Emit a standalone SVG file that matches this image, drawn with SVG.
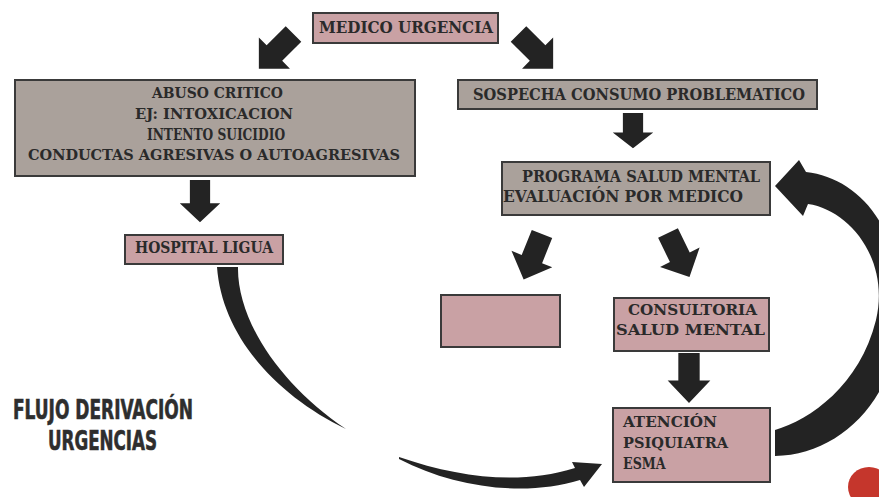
<svg xmlns="http://www.w3.org/2000/svg" xmlns:xlink="http://www.w3.org/1999/xlink" width="879" height="497" viewBox="0 0 879 497">
  <style>
    .pink { fill: #c9a1a4; stroke: #3a3a3a; stroke-width: 2; }
    .gray { fill: #aaa19b; stroke: #3a3a3a; stroke-width: 2; }
    .t { font-family: "DejaVu Serif Condensed", "DejaVu Serif", "Liberation Serif", serif; font-weight: bold; fill: #2a2a2a; }
    .title { font-family: "DejaVu Sans Condensed", "Liberation Sans Narrow", "DejaVu Sans", sans-serif; font-weight: bold; fill: #2e2e2e; stroke: #2e2e2e; stroke-width: 0.6; }
    .blk { fill: #232323; }
  </style>
  <defs>
    <path id="blkArrow" d="M-11,0 H11 V27 H22 L0,49 L-22,27 H-11 Z"/>
  </defs>
  <rect width="879" height="497" fill="#ffffff"/>

  <g id="connectors" class="blk">
    <use xlink:href="#blkArrow" href="#blkArrow" transform="translate(293.5,34) rotate(45)"/>
    <use xlink:href="#blkArrow" href="#blkArrow" transform="translate(518.5,34) rotate(-45)"/>
    <use xlink:href="#blkArrow" href="#blkArrow" transform="translate(200,180) scale(0.92,0.86)"/>
    <use xlink:href="#blkArrow" href="#blkArrow" transform="translate(633,113) scale(0.92,0.72)"/>
    <use xlink:href="#blkArrow" href="#blkArrow" transform="translate(542,234) rotate(22)"/>
    <use xlink:href="#blkArrow" href="#blkArrow" transform="translate(668,233) rotate(-26)"/>
    <use xlink:href="#blkArrow" href="#blkArrow" transform="translate(689,353) scale(0.97,1.02)"/>
    <path d="M217,267 L238,267 C237,320 280,385 346,429 C275,395 222,335 217,267 Z"/>
    <path d="M399,457 C460,478 520,485 575,468 L572,462 L602,464 L584,487 L580,480 C525,497 455,488 399,459 Z"/>
    <path d="M775,430 C810,420 860,385 876,320 C890,260 850,210 808,204 L803,216 L775,186 L799,160 L806,172 C860,178 905,230 900,320 C895,400 840,455 775,456 Z"/>
  </g>

  <g id="medico-urgencia">
    <rect class="pink" x="313" y="13" width="185" height="30"/>
    <text class="t" x="319" y="33" font-size="16" textLength="174" lengthAdjust="spacingAndGlyphs">MEDICO URGENCIA</text>
  </g>

  <g id="abuso-critico">
    <rect class="gray" x="15" y="80" width="400" height="96"/>
    <text class="t" x="152" y="98" font-size="15" textLength="131" lengthAdjust="spacingAndGlyphs">ABUSO CRITICO</text>
    <text class="t" x="135" y="119" font-size="15" textLength="158" lengthAdjust="spacingAndGlyphs">EJ: INTOXICACION</text>
    <text class="t" font-size="17" text-anchor="middle" transform="translate(216,140) scale(0.8,1)">INTENTO SUICIDIO</text>
    <text class="t" x="28" y="160" font-size="15" textLength="372" lengthAdjust="spacingAndGlyphs">CONDUCTAS AGRESIVAS O AUTOAGRESIVAS</text>
  </g>

  <g id="sospecha">
    <rect class="gray" x="458" y="80" width="359" height="29"/>
    <text class="t" x="473" y="100" font-size="16" textLength="332" lengthAdjust="spacingAndGlyphs">SOSPECHA CONSUMO PROBLEMATICO</text>
  </g>

  <g id="programa-salud-mental">
    <rect class="gray" x="502" y="162" width="268" height="53"/>
    <text class="t" x="522" y="182" font-size="16" textLength="238" lengthAdjust="spacingAndGlyphs">PROGRAMA SALUD MENTAL</text>
    <text class="t" x="503" y="202" font-size="16" textLength="240" lengthAdjust="spacingAndGlyphs">EVALUACIÓN POR MEDICO</text>
  </g>

  <g id="hospital-ligua">
    <rect class="pink" x="125" y="235" width="158" height="29"/>
    <text class="t" x="135" y="253" font-size="16" textLength="138" lengthAdjust="spacingAndGlyphs">HOSPITAL LIGUA</text>
  </g>

  <g id="empty-box">
    <rect class="pink" x="441" y="295" width="119" height="52"/>
  </g>

  <g id="consultoria">
    <rect class="pink" x="614" y="298" width="155" height="53"/>
    <text class="t" x="628" y="315" font-size="15" textLength="129" lengthAdjust="spacingAndGlyphs">CONSULTORIA</text>
    <text class="t" x="616" y="335" font-size="15" textLength="149" lengthAdjust="spacingAndGlyphs">SALUD MENTAL</text>
  </g>

  <g id="atencion-psiquiatra">
    <rect class="pink" x="613" y="408" width="157" height="74"/>
    <text class="t" x="623" y="427" font-size="15" textLength="94" lengthAdjust="spacingAndGlyphs">ATENCIÓN</text>
    <text class="t" x="623" y="448" font-size="15" textLength="105" lengthAdjust="spacingAndGlyphs">PSIQUIATRA</text>
    <text class="t" font-size="16" transform="translate(623,469) scale(0.88,1)">ESMA</text>
  </g>

  <g id="title">
    <text class="title" x="13" y="419" font-size="26" textLength="180" lengthAdjust="spacingAndGlyphs">FLUJO DERIVACIÓN</text>
    <text class="title" x="48" y="450" font-size="26" textLength="109" lengthAdjust="spacingAndGlyphs">URGENCIAS</text>
  </g>

  <g id="red-dot">
    <ellipse cx="869" cy="487" rx="21" ry="20" fill="#c5362c"/>
  </g>
</svg>
